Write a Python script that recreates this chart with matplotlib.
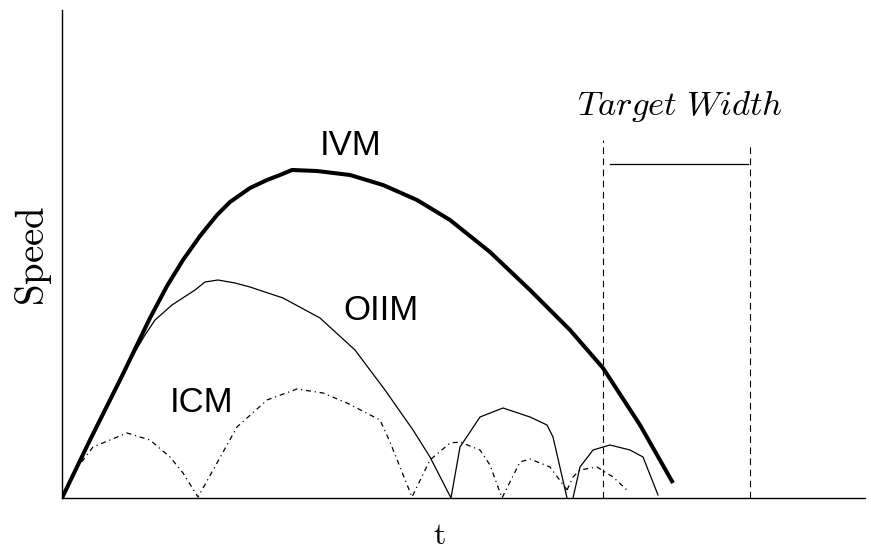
import matplotlib.pyplot as plt

plt.rcParams['mathtext.fontset'] = 'cm'

# curves, in axis units (t across, speed up)
ivm_t = [0, 28, 60, 88, 105, 121, 138, 155, 168, 188, 205, 218, 230, 255, 288, 321, 355,
         388, 428, 468, 508, 541, 578, 611]
ivm_v = [0, 58, 122, 180, 212, 238, 262, 283, 296, 310, 318, 323, 328, 327, 323, 313, 298,
         278, 246, 208, 168, 130, 73, 15]

oiim_t = [0, 28, 53, 70, 83, 93, 110, 133, 143, 156, 173, 188, 221, 258, 293, 323, 351, 368, 389,
          389, 398, 418, 441, 468, 485, 491, 505]
oiim_v = [0, 56, 106, 141, 163, 178, 193, 208, 216, 218, 215, 211, 200, 180, 148, 108, 68, 41, 0,
          0, 51, 81, 90, 81, 73, 61, 0]
oiim3_t = [511, 518, 531, 548, 568, 581, 596]
oiim3_v = [0, 31, 48, 53, 48, 41, 3]

icm_t = [0, 15, 31, 65, 88, 108, 121, 136, 155, 175, 205, 235, 261, 285, 318, 328, 350,
         368, 388, 398, 418, 428, 440, 458, 468, 488, 505]
icm_v = [0, 30, 51, 65, 58, 41, 25, 1, 35, 71, 98, 109, 105, 95, 78, 56, 1,
         38, 55, 56, 48, 33, 0, 36, 39, 31, 8]
icm3_t = [505, 511, 518, 535, 551, 565]
icm3_v = [8, 21, 28, 31, 21, 8]

width_left, width_right = 541, 688
width_tops = [358, 354]
width_bar_t = [548, 686]
width_bar_v = [334, 334]

fig = plt.figure(figsize=(8.71, 5.5), dpi=100)
ax = fig.add_axes([62 / 871, 52 / 550, 803 / 871, 488 / 550])
ax.set_xlim(0, 803)
ax.set_ylim(0, 488)

ax.plot(ivm_t, ivm_v, color='black', lw=2.9, solid_capstyle='butt', solid_joinstyle='round')
ax.plot(oiim_t, oiim_v, color='black', lw=0.9)
ax.plot(oiim3_t, oiim3_v, color='black', lw=0.9)
ax.plot(icm_t, icm_v, color='black', lw=0.9, linestyle=(0, (4, 3, 1, 3)))
ax.plot(icm3_t, icm3_v, color='black', lw=0.9, linestyle=(0, (4, 3, 1, 3)))

ax.plot([width_left, width_left], [0, width_tops[0]], color='black', lw=0.8, linestyle=(0, (6, 4)))
ax.plot([width_right, width_right], [0, width_tops[1]], color='black', lw=0.8, linestyle=(0, (6, 4)))
ax.plot(width_bar_t, width_bar_v, color='black', lw=0.9)

sans = ['Liberation Sans', 'DejaVu Sans']
ax.text(289, 352, 'IVM', family=sans, fontsize=25, ha='center', va='center')
ax.text(319, 188, 'OIIM', family=sans, fontsize=25, ha='center', va='center')
ax.text(140, 95, 'ICM', family=sans, fontsize=25, ha='center', va='center')
ax.text(618, 392, r'$\mathit{Target\ Width}$', fontsize=25, ha='center', va='center')

for side in ['top', 'right']:
    ax.spines[side].set_visible(False)
for side in ['left', 'bottom']:
    ax.spines[side].set_linewidth(1.0)
ax.set_xticks([])
ax.set_yticks([])

fig.text(439 / 871, 1 - 544 / 550, r'$\mathrm{t}$', fontsize=23, ha='center', va='baseline')
fig.text(34 / 871, 1 - 256 / 550, r'$\mathrm{Speed}$', fontsize=28, ha='center', va='center', rotation=90)

fig.savefig('out.png', dpi=100)
